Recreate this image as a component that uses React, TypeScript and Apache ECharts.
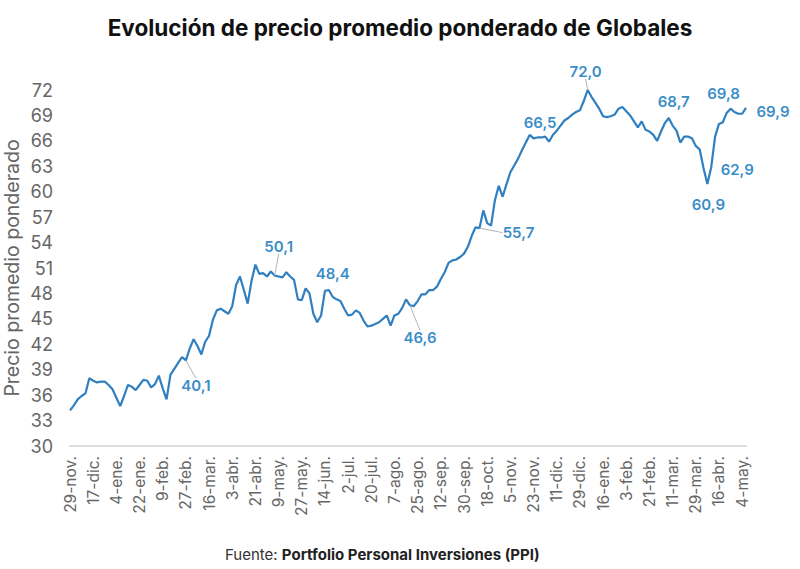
import React, { useEffect, useRef } from "react";
import * as echarts from "echarts";

const tickLabels = [
  "29-nov.", "17-dic.", "4-ene.", "22-ene.", "9-feb.", "27-feb.", "16-mar.", "3-abr.",
  "21-abr.", "9-may.", "27-may.", "14-jun.", "2-jul.", "20-jul.", "7-ago.", "25-ago.",
  "12-sep.", "30-sep.", "18-oct.", "5-nov.", "23-nov.", "11-dic.", "29-dic.", "16-ene.",
  "3-feb.", "21-feb.", "11-mar.", "29-mar.", "16-abr.", "4-may.",
];

// one value every 3 days, starting 29-nov
const prices = [
  34.2, 34.8, 35.5, 35.9, 36.2, 38.0, 37.7, 37.5, 37.6, 37.6,
  37.2, 36.7, 35.7, 34.7, 35.9, 37.2, 37.0, 36.6, 37.2, 37.8,
  37.7, 36.9, 37.3, 38.3, 36.8, 35.5, 38.4, 39.1, 39.8, 40.5,
  40.1, 41.5, 42.6, 41.8, 40.8, 42.3, 43.0, 44.9, 46.0, 46.2,
  45.9, 45.6, 46.5, 49.0, 50.0, 48.4, 46.8, 49.5, 51.4, 50.3,
  50.4, 50.0, 50.6, 50.1, 50.0, 49.9, 50.5, 50.0, 49.6, 47.3,
  47.2, 48.6, 48.0, 45.6, 44.6, 45.4, 48.3, 48.4, 47.6, 47.3,
  47.1, 46.2, 45.4, 45.5, 46.0, 45.7, 44.8, 44.1, 44.2, 44.4,
  44.6, 45.0, 45.4, 44.2, 45.4, 45.6, 46.3, 47.3, 46.6, 46.5,
  47.1, 47.9, 47.9, 48.4, 48.4, 48.8, 49.7, 50.5, 51.6, 51.9,
  52.0, 52.3, 52.7, 53.5, 54.8, 55.8, 55.7, 57.8, 56.3, 56.0,
  59.0, 60.7, 59.4, 60.9, 62.3, 63.1, 63.9, 64.9, 65.8, 66.7,
  66.3, 66.4, 66.4, 66.5, 65.9, 66.7, 67.2, 67.8, 68.4, 68.7,
  69.1, 69.4, 69.6, 70.7, 72.0, 71.2, 70.5, 69.8, 68.9, 68.8,
  68.9, 69.1, 69.8, 70.0, 69.5, 69.0, 68.3, 67.6, 68.3, 67.3,
  67.1, 66.7, 66.0, 67.1, 68.1, 68.7, 67.8, 67.2, 65.8, 66.5,
  66.5, 66.3, 65.4, 65.0, 62.8, 60.9, 62.9, 66.5, 68.0, 68.2,
  69.3, 69.8, 69.4, 69.2, 69.2, 69.9,
];

const annotatedIdx = [30, 53, 67, 88, 106, 123, 134, 155, 165, 166, 171, 175];

const TITLE = "Evolución de precio promedio ponderado de Globales";
const Y_NAME = "Precio promedio ponderado";
const SOURCE_LABEL = "Fuente: ";
const SOURCE_NAME = "Portfolio Personal Inversiones (PPI)";

const FONT = "Inter, Roboto, 'Noto Sans', sans-serif";
const BLUE = "#2f7fc1";
const LABEL_BLUE = "#3b8dc8";

// label shifts (styling only)
const shifts: Record<number, { dx: number; dy: number; line: boolean }> = {
  30: { dx: 10, dy: 33, line: true },
  53: { dx: 4, dy: -22, line: true },
  67: { dx: 4, dy: -9, line: false },
  88: { dx: 10, dy: 40, line: true },
  106: { dx: 39, dy: 12, line: true },
  123: { dx: -5, dy: -7, line: false },
  134: { dx: -2, dy: -11, line: true },
  155: { dx: 5, dy: -9, line: false },
  165: { dx: 1, dy: 28, line: false },
  166: { dx: 26, dy: 10, line: false },
  171: { dx: -7, dy: -8, line: false },
  175: { dx: 27, dy: 11, line: false },
};

export default function App() {
  const ref = useRef<HTMLDivElement>(null);

  useEffect(() => {
    if (!ref.current) return;
    const chart = echarts.init(ref.current, undefined, { renderer: "svg" });

    const categories = prices.map((_, i) => (i % 6 === 0 ? tickLabels[i / 6] ?? "" : ""));

    const data = prices.map((v, i) => {
      if (annotatedIdx.indexOf(i) >= 0) {
        const s = shifts[i];
        return {
          value: v,
          label: {
            show: true,
            position: "top",
            distance: 0,
            formatter: (p: any) => Number(p.value).toFixed(1).replace(".", ","),
            color: LABEL_BLUE,
            fontSize: 15,
            fontWeight: 600,
            fontFamily: FONT,
          },
          labelLine: {
            show: s.line,
            lineStyle: { color: "#b5b5b5", width: 1 },
          },
        };
      }
      return v;
    });

    chart.setOption({
      animation: false,
      backgroundColor: "#ffffff",
      title: [
        {
          text: TITLE,
          left: "center",
          top: 11,
          textStyle: { fontSize: 22.5, fontWeight: "bold", color: "#111", fontFamily: FONT },
        },
        {
          text: "{a|" + SOURCE_LABEL + "}{b|" + SOURCE_NAME + "}",
          left: 220,
          top: 542,
          textStyle: {
            rich: {
              a: { fontSize: 15, color: "#333", fontWeight: "normal", fontFamily: FONT },
              b: { fontSize: 15, color: "#222", fontWeight: "bold", fontFamily: FONT },
            },
          },
        },
      ],
      grid: { left: 70, right: 54, top: 90, bottom: 123, outerBoundsMode: "none", containLabel: false },
      xAxis: {
        type: "category",
        boundaryGap: false,
        data: categories,
        axisLine: { show: true, lineStyle: { color: "#dedede", width: 2 } },
        axisTick: { show: false },
        splitLine: { show: false },
        axisLabel: {
          interval: 5,
          rotate: 90,
          fontSize: 15.5,
          color: "#666",
          margin: 10,
          fontFamily: FONT,
        },
      },
      yAxis: {
        type: "value",
        min: 30,
        max: 72,
        interval: 3,
        axisLine: { show: false },
        axisTick: { show: false },
        splitLine: { show: false },
        axisLabel: { fontSize: 18, color: "#666", margin: 17, fontFamily: FONT },
        name: Y_NAME,
        nameLocation: "middle",
        nameGap: 48,
        nameMoveOverlap: false,
        nameTextStyle: { fontSize: 19.5, color: "#666", fontFamily: FONT },
      },
      series: [
        {
          type: "line",
          data,
          symbol: "circle",
          symbolSize: 0.001,
          showSymbol: true,
          showAllSymbol: true,
          lineStyle: { color: BLUE, width: 2.2 },
          itemStyle: { color: BLUE },
          labelLayout: (params: any) => {
            const s = shifts[params.dataIndex];
            return s ? { dx: s.dx, dy: s.dy } : {};
          },
          labelLine: { show: false, lineStyle: { color: "#b5b5b5", width: 1 } },
        },
      ],
    });

    return () => chart.dispose();
  }, []);

  return (
    <div
      ref={ref}
      style={{ position: "absolute", left: 0, top: 0, width: 800, height: 569, background: "#fff" }}
    />
  );
}
